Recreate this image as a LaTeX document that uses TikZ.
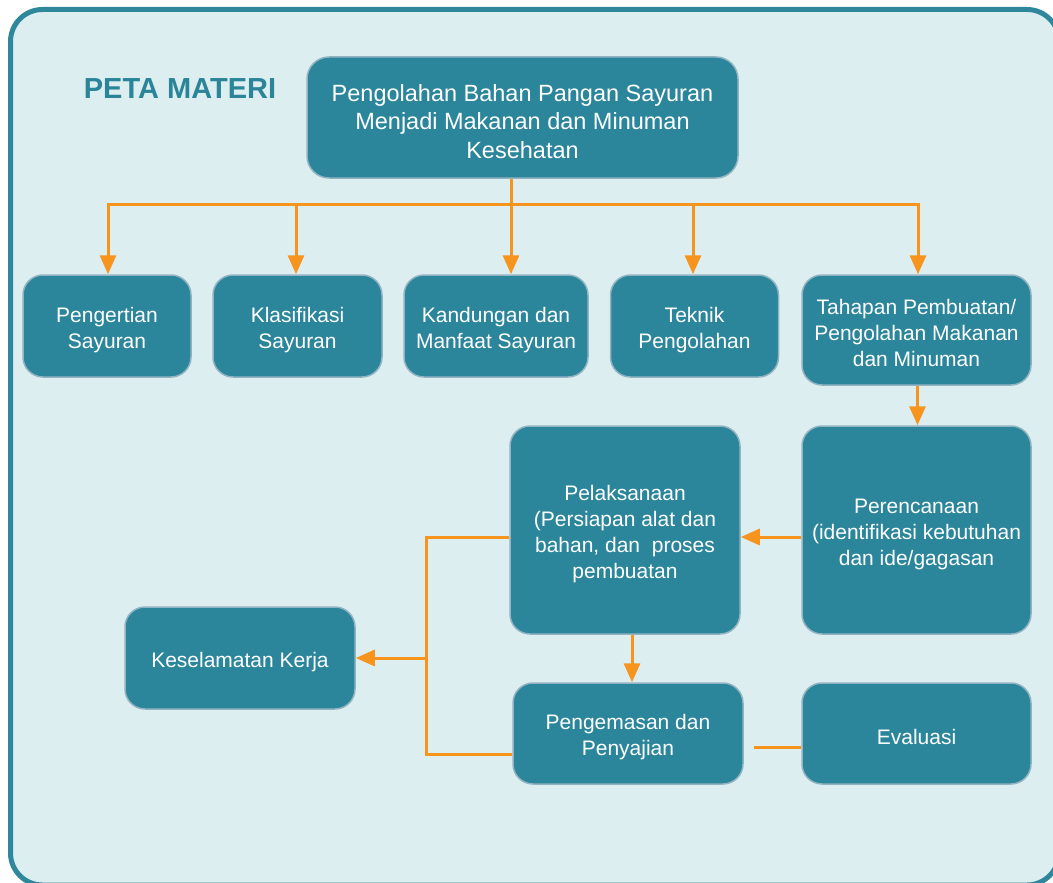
\documentclass[tikz,border=0pt]{standalone}
\usepackage{fontspec}
\setmainfont{Liberation Sans}
\usetikzlibrary{arrows.meta,calc}
\definecolor{bgc}{HTML}{DDEEF1}
\definecolor{framec}{HTML}{2E879B}
\definecolor{boxc}{HTML}{2B869B}
\definecolor{bordc}{HTML}{92B3C2}
\definecolor{orc}{HTML}{F7941D}
\definecolor{titlec}{HTML}{2A8599}
\begin{document}
\begin{tikzpicture}[x=1pt,y=-1pt,
  box/.style={draw=bordc,line width=1.5pt,fill=boxc,rounded corners=20pt,inner sep=0pt},
  txt/.style={text=white,align=center,inner sep=0pt,font=\fontsize{21}{26}\selectfont},
  conn/.style={draw=orc,line width=3pt},
  arr/.style={conn,-{Triangle[width=16pt,length=19pt]}},
  ttl/.style={text=titlec,font=\fontsize{29}{32}\selectfont\bfseries,inner sep=0pt}]
\useasboundingbox (0,0) rectangle (1053,883);
\draw[fill=bgc,draw=framec,line width=5pt,rounded corners=32pt] (10.5,9.5) rectangle (1059,885);
\node[ttl] (title) at (180,89) {PETA MATERI};
\node[box,minimum width=431pt,minimum height=121pt,rounded corners=22pt] (main) at (522.5,117.5) {};
\node[txt,font=\fontsize{23.5}{28.5}\selectfont] (maint) at ([yshift=-4pt]main.center)
  {Pengolahan Bahan Pangan Sayuran\\Menjadi Makanan dan Minuman\\Kesehatan};
\node[box,minimum width=168pt,minimum height=102pt] (b1) at (107,326) {};
\node[txt] (b1t) at ([yshift=-4pt]b1.center) {Pengertian\\Sayuran};
\node[box,minimum width=169pt,minimum height=102pt] (b2) at (297.5,326) {};
\node[txt] (b2t) at ([yshift=-4pt]b2.center) {Klasifikasi\\Sayuran};
\node[box,minimum width=184pt,minimum height=102pt] (b3) at (496,326) {};
\node[txt] (b3t) at ([yshift=-4pt]b3.center) {Kandungan dan\\Manfaat Sayuran};
\node[box,minimum width=168pt,minimum height=102pt] (b4) at (694.5,326) {};
\node[txt] (b4t) at ([yshift=-4pt]b4.center) {Teknik\\Pengolahan};
\node[box,minimum width=229pt,minimum height=110pt] (b5) at (916.5,330) {};
\node[txt] (b5t) at ([yshift=-3pt]b5.center) {Tahapan Pembuatan/\\Pengolahan Makanan\\dan Minuman};
\node[box,minimum width=230pt,minimum height=208pt] (pel) at (625,530) {};
\node[txt] (pelt) at ([yshift=-4pt]pel.center) {Pelaksanaan\\(Persiapan alat dan\\bahan, dan\ \ proses\\pembuatan};
\node[box,minimum width=229pt,minimum height=208pt] (per) at (916.5,530) {};
\node[txt] (pert) at ([yshift=-4pt]per.center) {Perencanaan\\(identifikasi kebutuhan\\dan ide/gagasan};
\node[box,minimum width=230pt,minimum height=102pt] (kes) at (240,658) {};
\node[txt] (kest) at ([yshift=-4pt]kes.center) {Keselamatan Kerja};
\node[box,minimum width=230pt,minimum height=101pt] (pen) at (628,733.5) {};
\node[txt] (pent) at ([yshift=-4pt]pen.center) {Pengemasan dan\\Penyajian};
\node[box,minimum width=229pt,minimum height=101pt] (eva) at (916.5,733.5) {};
\node[txt] (evat) at ([yshift=-3pt]eva.center) {Evaluasi};
\coordinate (bus) at (0,204);
\draw[arr] ([xshift=-11.5pt]main.south) -- ([xshift=15pt]b3.north);
\draw[arr] ([xshift=-11.5pt]main.south |- bus) -| ([xshift=1pt]b1.north);
\draw[arr] ([xshift=-11.5pt]main.south |- bus) -| ([xshift=1.5pt]b5.north);
\draw[arr] ([xshift=-1.5pt]b2.north |- bus) -- ([xshift=-1.5pt]b2.north);
\draw[arr] ([xshift=-1.5pt]b4.north |- bus) -- ([xshift=-1.5pt]b4.north);
\draw[arr] ([xshift=1pt]b5.south) -- ([xshift=1pt]per.north);
\draw[arr] ([yshift=-7pt]per.west) -- ([yshift=-7pt]pel.east);
\draw[arr] ([xshift=7pt]pel.south) -- ([xshift=7pt]pel.south |- pen.north);
\coordinate (j1) at (426,537);
\coordinate (j2) at (426,754);
\draw[conn] ([yshift=-7pt]pel.west) -- (j1) -- (j2) -- ([yshift=-20.5pt]pen.west);
\draw[arr] (j1 |- kes.east) -- (kes.east);
\draw[conn] ([xshift=10pt,yshift=-13.5pt]pen.east) -- ([yshift=-13.5pt]eva.west);
\end{tikzpicture}
\end{document}
